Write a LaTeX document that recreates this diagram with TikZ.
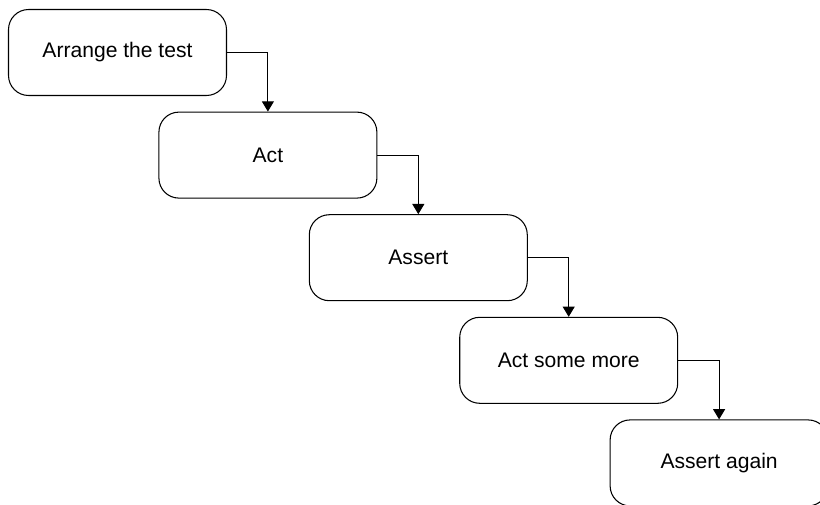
\documentclass[tikz,border=0pt]{standalone}
\usepackage{fontspec}
\setmainfont{Liberation Sans}
\usetikzlibrary{arrows.meta}
\begin{document}
\begin{tikzpicture}[x=0.02cm,y=-0.02cm,
    stage/.style={draw,line width=0.6pt,rounded corners=0.4cm,minimum width=4.36cm,minimum height=1.72cm,font=\fontsize{12}{14}\selectfont},
    flow/.style={line width=0.6pt,-{Triangle[width=6.8pt,length=5.8pt]}}]
  \clip (0,0) rectangle (820,504);
  \useasboundingbox (0,0) rectangle (820,504);
  \foreach[count=\i,evaluate={117.5+150.4*(\i-1)} as \x,evaluate={52.5+102.6*(\i-1)} as \y] \t in {Arrange the test,Act,Assert,Act some more,Assert again} {
    \node[stage] (s\i) at (\x,\y) {\t};
  }
  \foreach[evaluate={int(\i+1)} as \j] \i in {1,...,4} {
    \draw[flow] (s\i) -| (s\j);
  }
\end{tikzpicture}
\end{document}
